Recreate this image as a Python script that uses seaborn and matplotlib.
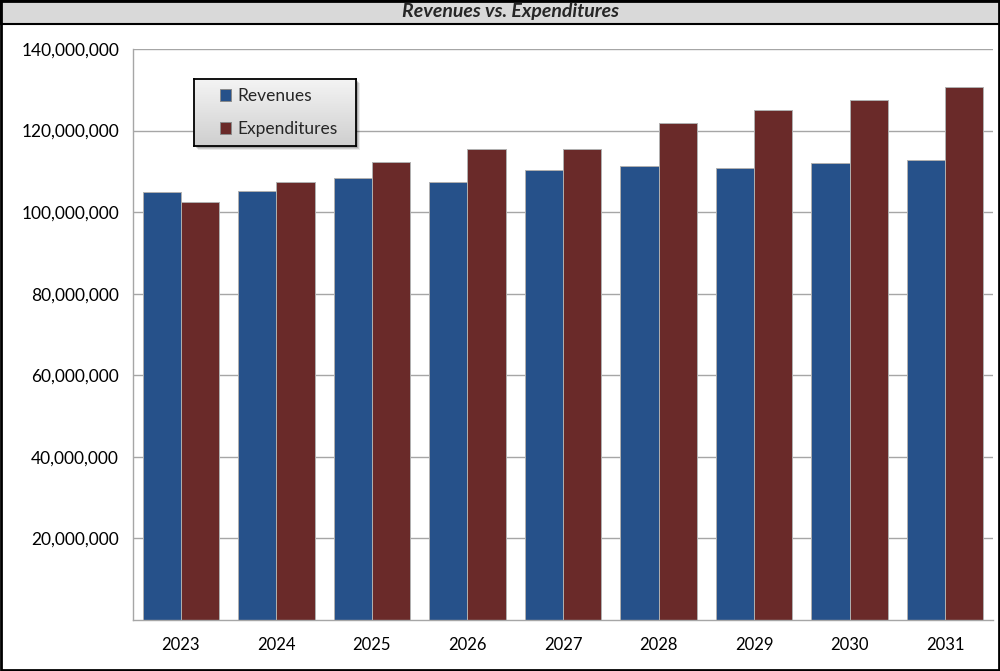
import matplotlib
matplotlib.use('Agg')
import matplotlib.pyplot as plt
import seaborn as sns
import pandas as pd
import numpy as np
from matplotlib.patches import Rectangle
from matplotlib.ticker import FuncFormatter

# ---- data ----
years = ['2023', '2024', '2025', '2026', '2027', '2028', '2029', '2030', '2031']
revenues = [104.9e6, 105.3e6, 108.4e6, 107.4e6, 110.3e6, 111.2e6, 110.9e6, 112.0e6, 112.8e6]
expenditures = [102.4e6, 107.3e6, 112.2e6, 115.5e6, 115.5e6, 121.8e6, 125.1e6, 127.4e6, 130.7e6]
series = ['Revenues', 'Expenditures']
y_ticks = [20e6, 40e6, 60e6, 80e6, 100e6, 120e6, 140e6]
title = 'Revenues vs. Expenditures'

colors = {'Revenues': '#26518A', 'Expenditures': '#6A2A29'}

sns.set_theme(style='white')
plt.rcParams['font.family'] = ['Lato', 'DejaVu Sans']

W, H = 1000, 671
fig = plt.figure(figsize=(W / 100, H / 100), dpi=100)
ax = fig.add_axes([0.133, 0.076, 0.86, 0.851])
ax.set_zorder(1)

df = pd.DataFrame({
    'Year': years * 2,
    'Series': ['Revenues'] * len(years) + ['Expenditures'] * len(years),
    'Value': revenues + expenditures,
})

sns.barplot(data=df, x='Year', y='Value', hue='Series', hue_order=series,
            palette=colors, saturation=1, width=0.8, ax=ax,
            edgecolor='#B0B0B0', linewidth=0.7, errorbar=None)

grid_c = '#A6A6A6'
ax.set_axisbelow(True)
ax.yaxis.grid(True, color=grid_c, lw=1)
ax.xaxis.grid(False)
ax.set_ylim(0, 140e6)
ax.set_xlim(-0.5, len(years) - 0.5)
ax.set_yticks(y_ticks)
ax.yaxis.set_major_formatter(FuncFormatter(lambda v, p: f'{v:,.0f}'))
ax.set_xticks(np.arange(-0.5, len(years), 1), minor=True)
ax.tick_params(axis='x', which='major', length=0, pad=12, labelsize=12, colors='black')
ax.tick_params(axis='x', which='minor', length=6, color=grid_c, width=1, direction='out')
ax.tick_params(axis='y', which='major', length=6, color=grid_c, width=1, direction='out',
               labelsize=12.5, pad=4, colors='black')
ax.tick_params(axis='y', colors='black', labelcolor='black')
for s in ['top', 'right']:
    ax.spines[s].set_visible(False)
for s in ['left', 'bottom']:
    ax.spines[s].set_color(grid_c)
    ax.spines[s].set_linewidth(1)
ax.set_xlabel('')
ax.set_ylabel('')

handles, labels = ax.get_legend_handles_labels()
ax.get_legend().remove()

# legend box (gradient, black border, soft shadow)
lx0, lx1, ly0, ly1 = 194, 356, 79, 146
for off, a in [(4, 0.08), (3, 0.12), (2, 0.16)]:
    fig.patches.append(Rectangle(((lx0 + off) / W, 1 - (ly1 + off) / H),
                                 (lx1 - lx0) / W, (ly1 - ly0) / H,
                                 transform=fig.transFigure, facecolor='black',
                                 alpha=a, edgecolor='none', zorder=2))
lax = fig.add_axes([lx0 / W, 1 - ly1 / H, (lx1 - lx0) / W, (ly1 - ly0) / H])
lax.set_zorder(5)
grad = np.linspace(0, 1, 100).reshape(-1, 1)
lax.imshow(grad, aspect='auto', cmap=matplotlib.colors.LinearSegmentedColormap.from_list(
    'g', ['#F4F4F4', '#CFCFCF']), extent=[0, 1, 0, 1], origin='upper')
lax.set_xticks([])
lax.set_yticks([])
for s in lax.spines.values():
    s.set_color('black')
    s.set_linewidth(1.3)
leg = lax.legend(handles, labels, loc='center left', bbox_to_anchor=(0.16, 0.5),
                 frameon=False, handlelength=0.65, handleheight=0.65,
                 labelspacing=1.0, handletextpad=0.35, borderpad=0, borderaxespad=0,
                 fontsize=12.5)
for h in leg.legend_handles:
    h.set_edgecolor('#8A8A8A')

# header band and border
hb = 24 / H
fig.patches.append(Rectangle((0, 1 - hb), 1, hb, transform=fig.transFigure,
                             facecolor='#D9D9D9', edgecolor='black', lw=1.5, zorder=0))
fig.patches.append(Rectangle((0.001, 0.0015), 0.998, 0.997, transform=fig.transFigure,
                             fill=False, edgecolor='black', lw=2, zorder=6))
fig.text(0.51, 1 - hb / 2, title, ha='center', va='center',
         fontweight='bold', fontstyle='italic', fontsize=14, zorder=6)

fig.savefig('out.png', dpi=100)
